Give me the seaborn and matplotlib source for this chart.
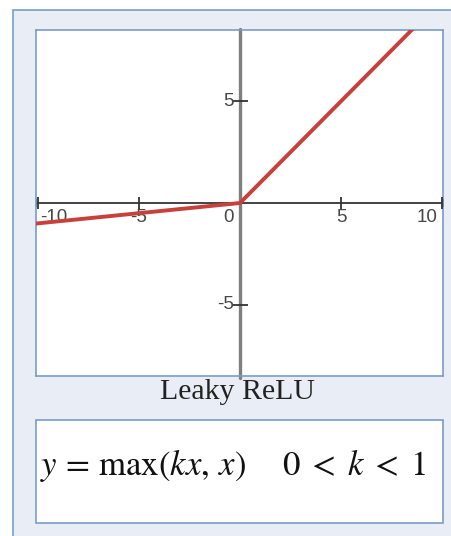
import matplotlib
matplotlib.use("Agg")
import matplotlib.pyplot as plt
from matplotlib.patches import Rectangle
import seaborn as sns
import pandas as pd

# Leaky ReLU with k = 0.1, sampled at its break points
curve_x = [-11.0, 0.0, 9.0]
curve_y = [-1.1, 0.0, 9.0]

x_ticks = [-10, -5, 5, 10]
x_tick_labels = ["-10", "-5", "5", "10"]
y_ticks = [-5, 5]
y_tick_labels = ["-5", "5"]
origin_label = "0"

title = "Leaky ReLU"
formula_left = r"$y\,=\,\max(kx,\,x)$"
formula_right = r"$0\;<\;k\;<\;1$"

sns.set_theme(style="white")
plt.rcParams["font.family"] = ["Liberation Sans", "DejaVu Sans"]
plt.rcParams["mathtext.fontset"] = "stix"

W, H = 452, 536
fig = plt.figure(figsize=(W / 100, H / 100), dpi=100)
fig.patch.set_facecolor("white")

border = "#7a9cc6"
panel = "#e9eef6"
label_color = "#474747"
tick_fs = 13.5

def fx(px):
    return px / W

def fy(py):
    return 1 - py / H

# background card
fig.patches.append(Rectangle((fx(13), fy(540)), fx(460) - fx(13), fy(10) - fy(540),
                             transform=fig.transFigure, facecolor=panel,
                             edgecolor=border, lw=1.2, zorder=-10))

# graph area
ax = fig.add_axes([fx(36), fy(376), fx(443) - fx(36), fy(30) - fy(376)])
ax.set_zorder(5)
ax.set_facecolor("white")
for sp in ax.spines.values():
    sp.set_color(border)
    sp.set_linewidth(1.2)

df = pd.DataFrame({"x": curve_x, "y": curve_y})
sns.lineplot(data=df, x="x", y="y", ax=ax, color="#c8403a", lw=2.8, zorder=5,
             sort=False, estimator=None)
ax.set_xlabel("")
ax.set_ylabel("")
ax.set_xticks([])
ax.set_yticks([])
ax.set_xlim(-10.1, 10.05)
ax.set_ylim(-8.5, 8.5)

# coordinate axes
ax.axvline(0, color="#7f7f7f", lw=2.4, zorder=2, ymin=-0.006, ymax=1.004, clip_on=False)
ax.axhline(0, color="#222222", lw=1.2, zorder=2)
ax.plot([-10.1, 10.05], [0, 0], ls="none", marker="|", ms=6, mew=1.2, color="#222222", zorder=2)

# tick marks
ax.plot(x_ticks, [0] * len(x_ticks), ls="none", marker="|", ms=9, mew=1.3, color="#333333", zorder=3)
ax.plot([0] * len(y_ticks), y_ticks, ls="none", marker="_", ms=11, mew=1.3, color="#333333", zorder=3)

# tick labels: the outermost ones are pulled inside the frame
for xv, lab in zip(x_ticks, x_tick_labels):
    ha = "center"
    if xv == min(x_ticks):
        ha = "left"
    elif xv == max(x_ticks):
        ha = "right"
    ax.text(xv + (0.1 if ha == "left" else -0.2 if ha == "right" else 0), -0.28, lab,
            ha=ha, va="top", fontsize=tick_fs, color=label_color, zorder=4)
for yv, lab in zip(y_ticks, y_tick_labels):
    ax.text(-0.3, yv, lab, ha="right", va="center", fontsize=tick_fs, color=label_color, zorder=4)
ax.text(-0.3, -0.28, origin_label, ha="right", va="top", fontsize=tick_fs, color=label_color, zorder=4)

# caption
fig.text(fx(237), fy(392), title, ha="center", va="center", fontsize=21.5,
         family=["Liberation Serif", "DejaVu Serif"], color="#222222")

# formula box
fig.patches.append(Rectangle((fx(36), fy(523)), fx(443) - fx(36), fy(420) - fy(523),
                             transform=fig.transFigure, facecolor="white",
                             edgecolor=border, lw=1.2, zorder=1))
fig.text(fx(40), fy(466), formula_left, ha="left", va="center", fontsize=25, color="#111111")
fig.text(fx(426), fy(466), formula_right, ha="right", va="center", fontsize=25, color="#111111")

fig.savefig("out.png", dpi=100)
